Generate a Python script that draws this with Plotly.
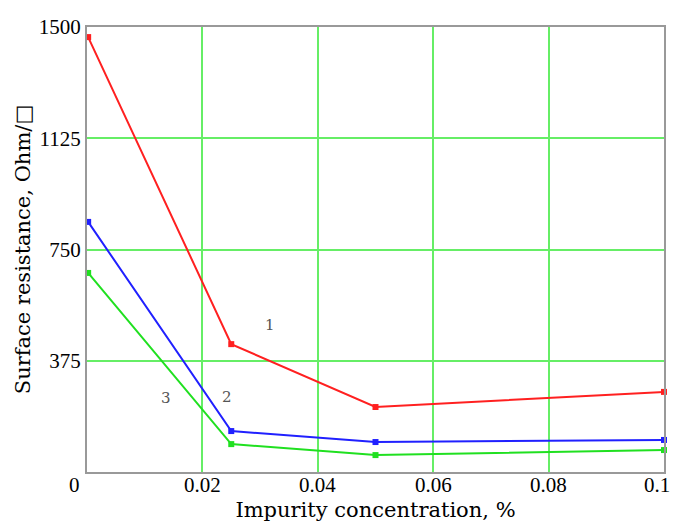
import plotly.graph_objects as go

x_vals = [0.0002, 0.025, 0.05, 0.1]
series1 = [1466, 431, 219, 270]
series2 = [843, 138, 101, 108]
series3 = [671, 94, 57, 74]
x_ticks = [0, 0.02, 0.04, 0.06, 0.08, 0.1]
x_tick_text = ["0", "0.02", "0.04", "0.06", "0.08", "0.1"]
y_ticks = [375, 750, 1125, 1500]
y_tick_text = ["375", "750", "1125", "1500"]
curve_labels = [("1", 0.0317, 495), ("2", 0.0243, 253), ("3", 0.0137, 249)]

TICKFONT = "Liberation Serif"
TITLEFONT = "DejaVu Serif"

fig = go.Figure()
for ys, col in [(series1, "#ff2020"), (series2, "#2020ff"), (series3, "#20e020")]:
    fig.add_trace(go.Scatter(
        x=x_vals, y=ys, mode="lines+markers",
        line=dict(color=col, width=2),
        marker=dict(symbol="square", size=6, color=col),
        showlegend=False, cliponaxis=False))

for txt, xx, yy in curve_labels:
    fig.add_annotation(x=xx, y=yy, text=txt, showarrow=False,
                       font=dict(family=TITLEFONT, size=15, color="#555555"))

# x tick labels (drawn at the axis' data positions)
for i, (xv, lab) in enumerate(zip(x_ticks, x_tick_text)):
    if i == 0:
        anchor, shift = "right", -5
    elif i == len(x_ticks) - 1:
        anchor, shift = "right", 8
    else:
        anchor, shift = "center", 0
    fig.add_annotation(x=xv, y=0, xref="x", yref="paper", text=lab,
                       showarrow=False, yanchor="top", yshift=1,
                       xanchor=anchor, xshift=shift,
                       font=dict(family=TICKFONT, size=21, color="black"))

fig.update_xaxes(range=[0, 0.1], tickvals=x_ticks[1:],
                 showticklabels=False,
                 showgrid=True, gridcolor="#66ee66", gridwidth=2,
                 showline=True, linecolor="#999999", linewidth=2, mirror=True,
                 ticks="", zeroline=False, automargin=False,
                 title=dict(text="Impurity concentration, %", standoff=29,
                            font=dict(family=TITLEFONT, size=21, color="black")))
fig.update_yaxes(range=[0, 1500], tickvals=y_ticks, ticktext=y_tick_text,
                 showgrid=True, gridcolor="#66ee66", gridwidth=2,
                 showline=True, linecolor="#999999", linewidth=2, mirror=True,
                 ticks="", zeroline=False, automargin=False,
                 tickfont=dict(family=TICKFONT, size=21, color="black"),
                 title=dict(text="Surface resistance, Ohm/□", standoff=2,
                            font=dict(family=TITLEFONT, size=21, color="black")))

fig.update_layout(width=673, height=525,
                  margin=dict(l=87, r=9, t=27, b=53),
                  paper_bgcolor="white", plot_bgcolor="white")

fig.write_html("out.html")
